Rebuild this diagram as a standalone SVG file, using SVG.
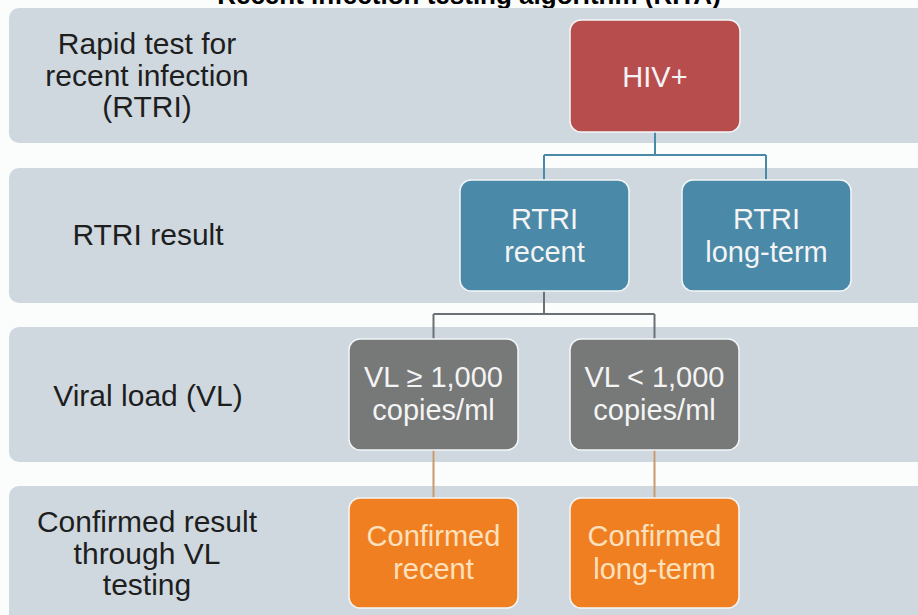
<svg xmlns="http://www.w3.org/2000/svg" width="918" height="615" viewBox="0 0 918 615">
<style>
.band{fill:#cfd8df}
.lbl{font-family:"Liberation Sans",Arial,sans-serif;font-size:30px;fill:#1e1e1e;text-anchor:middle}
.ntx{font-family:"Liberation Sans",Arial,sans-serif;font-size:29px;fill:#f4f4f4;text-anchor:middle}
.otx{fill:#fde1bd}
.node{stroke:#f3f6f8;stroke-width:1.5}
.title{font-family:"Liberation Sans",Arial,sans-serif;font-size:26px;font-weight:bold;fill:#000;text-anchor:middle}
</style>
<rect width="918" height="615" fill="#fbfcfc"/>
<text class="title" x="469" y="3.5">Recent infection testing algorithm (RITA)</text>
<g id="bands">
<rect class="band" x="9" y="8" width="930" height="135" rx="10"/>
<rect class="band" x="9" y="168" width="930" height="135" rx="10"/>
<rect class="band" x="9" y="327" width="930" height="135" rx="10"/>
<rect class="band" x="9" y="486" width="930" height="150" rx="10"/>
</g>
<g id="row-labels">
<text class="lbl" x="147" y="54">Rapid test for</text>
<text class="lbl" x="147" y="86">recent infection</text>
<text class="lbl" x="147" y="117">(RTRI)</text>
<text class="lbl" x="148" y="245">RTRI result</text>
<text class="lbl" x="148" y="406">Viral load (VL)</text>
<text class="lbl" x="147" y="532">Confirmed result</text>
<text class="lbl" x="147" y="564">through VL</text>
<text class="lbl" x="147" y="595">testing</text>
</g>
<g id="connectors" fill="none" stroke-width="2">
<path d="M655 132V155M544 155H766M544 155V180M766 155V180" stroke="#4a8aa8"/>
<path d="M544 291V314M433.5 314H654.5M433.5 314V339M654.5 314V339" stroke="#6b7074"/>
<path d="M433.5 450V498M654.5 450V498" stroke="#c99a6e"/>
</g>
<g id="hiv">
<rect class="node" x="570" y="20" width="170" height="112" rx="11" fill="#b84d4e"/>
<text class="ntx" x="655" y="87">HIV+</text>
</g>
<g id="rtri-recent">
<rect class="node" x="460" y="180" width="169" height="111" rx="11" fill="#4a89a7"/>
<text class="ntx" x="544.5" y="229">RTRI</text>
<text class="ntx" x="544.5" y="262">recent</text>
</g>
<g id="rtri-longterm">
<rect class="node" x="682" y="180" width="169" height="111" rx="11" fill="#4a89a7"/>
<text class="ntx" x="766.5" y="229">RTRI</text>
<text class="ntx" x="766.5" y="262">long-term</text>
</g>
<g id="vl-high">
<rect class="node" x="349" y="339" width="169" height="111" rx="11" fill="#777878"/>
<text class="ntx" x="433.5" y="387">VL ≥ 1,000</text>
<text class="ntx" x="433.5" y="420">copies/ml</text>
</g>
<g id="vl-low">
<rect class="node" x="570" y="339" width="169" height="111" rx="11" fill="#777878"/>
<text class="ntx" x="654.5" y="387">VL &lt; 1,000</text>
<text class="ntx" x="654.5" y="420">copies/ml</text>
</g>
<g id="confirmed-recent">
<rect class="node" x="349" y="498" width="169" height="110" rx="11" fill="#f07f22" stroke="#fbe0c4"/>
<text class="ntx otx" x="433.5" y="546">Confirmed</text>
<text class="ntx otx" x="433.5" y="579">recent</text>
</g>
<g id="confirmed-longterm">
<rect class="node" x="570" y="498" width="169" height="110" rx="11" fill="#f07f22" stroke="#fbe0c4"/>
<text class="ntx otx" x="654.5" y="546">Confirmed</text>
<text class="ntx otx" x="654.5" y="579">long-term</text>
</g>
</svg>
